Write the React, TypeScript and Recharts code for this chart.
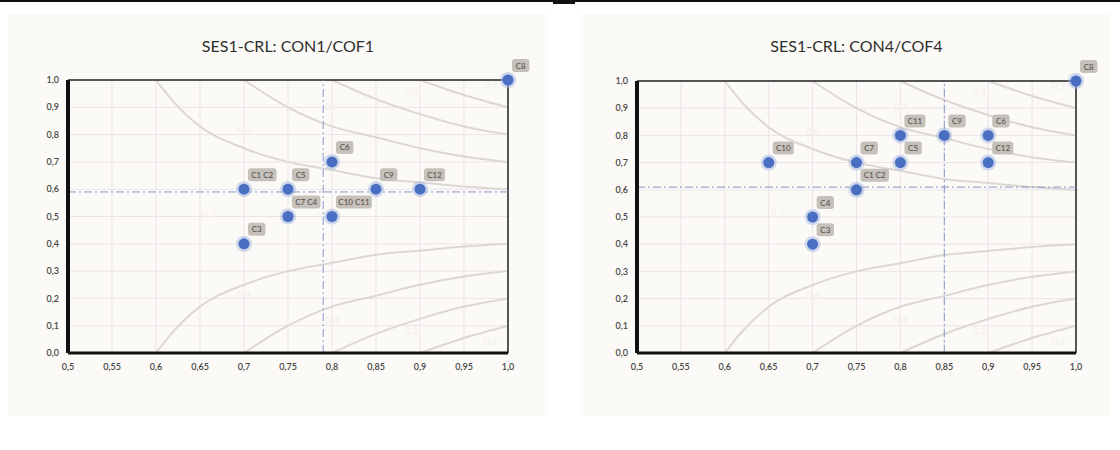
import * as React from "react";
import {
  ComposedChart,
  XAxis,
  YAxis,
  CartesianGrid,
  Line,
  Scatter,
  ReferenceLine,
} from "recharts";

// axis ticks
const xTicks = [0.5, 0.55, 0.6, 0.65, 0.7, 0.75, 0.8, 0.85, 0.9, 0.95, 1.0];
const xTickLabels = ["0,5", "0,55", "0,6", "0,65", "0,7", "0,75", "0,8", "0,85", "0,9", "0,95", "1,0"];
const yTicks = [0, 0.1, 0.2, 0.3, 0.4, 0.5, 0.6, 0.7, 0.8, 0.9, 1.0];
const yTickLabels = ["0,0", "0,1", "0,2", "0,3", "0,4", "0,5", "0,6", "0,7", "0,8", "0,9", "1,0"];

// left chart: CON1 / COF1
const leftTitle = "SES1-CRL: CON1/COF1";
const leftNames = ["C1 C2", "C3", "C5", "C7 C4", "C6", "C10 C11", "C9", "C12", "C8"];
const leftCon = [0.7, 0.7, 0.75, 0.75, 0.8, 0.8, 0.85, 0.9, 1.0];
const leftCof = [0.6, 0.4, 0.6, 0.5, 0.7, 0.5, 0.6, 0.6, 1.0];
const leftRefX = 0.79;
const leftRefY = 0.59;

// right chart: CON4 / COF4
const rightTitle = "SES1-CRL: CON4/COF4";
const rightNames = ["C10", "C4", "C3", "C7", "C1 C2", "C11", "C5", "C9", "C6", "C12", "C8"];
const rightCon = [0.65, 0.7, 0.7, 0.75, 0.75, 0.8, 0.8, 0.85, 0.9, 0.9, 1.0];
const rightCof = [0.7, 0.5, 0.4, 0.7, 0.6, 0.8, 0.7, 0.8, 0.8, 0.7, 1.0];
const rightRefX = 0.85;
const rightRefY = 0.61;

// background iso-curves
const curve06x = [0.6, 0.62, 0.65, 0.7, 0.75, 0.8, 0.85, 0.9, 0.95, 1.0];
const curve06y = [1.0, 0.92, 0.83, 0.75, 0.7, 0.67, 0.64, 0.625, 0.61, 0.6];
const curve07x = [0.7, 0.75, 0.8, 0.85, 0.9, 0.95, 1.0];
const curve07y = [1.0, 0.9, 0.83, 0.79, 0.75, 0.72, 0.7];
const curve08x = [0.8, 0.85, 0.9, 0.95, 1.0];
const curve08y = [1.0, 0.93, 0.875, 0.83, 0.8];
const curve09x = [0.9, 0.95, 1.0];
const curve09y = [1.0, 0.945, 0.9];
const curve04x = [0.6, 0.62, 0.65, 0.7, 0.75, 0.8, 0.85, 0.9, 0.95, 1.0];
const curve04y = [0, 0.08, 0.17, 0.25, 0.3, 0.33, 0.36, 0.375, 0.39, 0.4];
const curve03x = [0.7, 0.75, 0.8, 0.85, 0.9, 0.95, 1.0];
const curve03y = [0, 0.1, 0.17, 0.21, 0.25, 0.28, 0.3];
const curve02x = [0.8, 0.85, 0.9, 0.95, 1.0];
const curve02y = [0, 0.07, 0.125, 0.17, 0.2];
const curve01x = [0.9, 0.95, 1.0];
const curve01y = [0, 0.055, 0.1];

const curveLabelText = ["0,6", "0,7", "0,8", "0,9", "0,5", "0,4", "0,3", "0,2", "0,1"];
const curveLabelX = [0.7, 0.8, 0.89, 0.98, 0.66, 0.7, 0.8, 0.89, 0.98];
const curveLabelY = [0.8, 0.89, 0.95, 0.97, 0.5, 0.2, 0.11, 0.07, 0.03];

const zip = (xs: number[], ys: number[]) => xs.map((x, i) => ({ x, y: ys[i] }));

const curves = [
  zip(curve06x, curve06y),
  zip(curve07x, curve07y),
  zip(curve08x, curve08y),
  zip(curve09x, curve09y),
  zip(curve04x, curve04y),
  zip(curve03x, curve03y),
  zip(curve02x, curve02y),
  zip(curve01x, curve01y),
];

const curveLabels = curveLabelText.map((t, i) => ({
  x: curveLabelX[i],
  y: curveLabelY[i],
  name: t,
}));

const FONT = "Lato, 'Open Sans', sans-serif";

const PointShape = (props: any) => {
  const { cx, cy, payload } = props;
  if (cx == null || cy == null) return null;
  const name: string = payload.name;
  const w = name.length * 3.7 + 10;
  return (
    <g>
      <circle cx={cx} cy={cy} r={8} fill="#9fb3e0" opacity={0.5} />
      <circle cx={cx} cy={cy} r={5.5} fill="#4a6fc2" />
      <rect x={cx + 4} y={cy - 21} width={w} height={13} rx={3} fill="#c5c0ba" />
      <text
        x={cx + 4 + w / 2}
        y={cy - 11.5}
        textAnchor="middle"
        fontSize={8}
        fontFamily={FONT}
        fill="#4f4a46"
      >
        {name}
      </text>
    </g>
  );
};

const CurveLabel = (props: any) => {
  const { cx, cy, payload } = props;
  if (cx == null || cy == null) return null;
  return (
    <text x={cx} y={cy} textAnchor="middle" fontSize={10} fontFamily={FONT} fill="#f1eeea">
      {payload.name}
    </text>
  );
};

interface PanelProps {
  title: string;
  names: string[];
  con: number[];
  cof: number[];
  refX: number;
  refY: number;
  left: number;
  width: number;
  marginLeft: number;
  marginRight: number;
  marginTop: number;
}

const Panel = ({
  title,
  names,
  con,
  cof,
  refX,
  refY,
  left,
  width,
  marginLeft,
  marginRight,
  marginTop,
}: PanelProps) => {
  const points = names.map((n, i) => ({ x: con[i], y: cof[i], name: n }));
  const height = 420;
  return (
    <div style={{ position: "absolute", left, top: 0, width, height }}>
      <div
        style={{
          position: "absolute",
          left: marginLeft + 30,
          width: width - marginLeft - 30 - marginRight,
          top: 36,
          textAlign: "center",
          fontFamily: FONT,
          fontSize: 16,
          color: "#2e2e2e",
        }}
      >
        {title}
      </div>
      <ComposedChart
        width={width}
        height={height}
        margin={{ top: marginTop, right: marginRight, bottom: 47, left: marginLeft }}
        style={{ position: "absolute", left: 0, top: 0 }}
      >
        <CartesianGrid stroke="#ece3e9" strokeWidth={1} />
        <XAxis
          type="number"
          dataKey="x"
          domain={[0.5, 1.0]}
          ticks={xTicks}
          tickFormatter={(v: number) => xTickLabels[xTicks.indexOf(v)] ?? String(v)}
          tickLine={false}
          axisLine={{ stroke: "#111", strokeWidth: 3 }}
          tick={{ fontSize: 9, fill: "#444", fontFamily: FONT, fontWeight: 600 }}
          tickMargin={5}
          height={20}
          interval={0}
        />
        <YAxis
          type="number"
          dataKey="y"
          domain={[0, 1.0]}
          ticks={yTicks}
          tickFormatter={(v: number) => yTickLabels[yTicks.indexOf(v)] ?? String(v)}
          tickLine={false}
          axisLine={{ stroke: "#111", strokeWidth: 4 }}
          tick={{ fontSize: 9, fill: "#444", fontFamily: FONT, fontWeight: 600 }}
          tickMargin={3}
          width={30}
          interval={0}
        />
        {curves.map((c, i) => (
          <Line
            key={i}
            data={c}
            dataKey="y"
            type="monotone"
            stroke="#dcd7d2"
            strokeWidth={2}
            dot={false}
            activeDot={false}
            isAnimationActive={false}
          />
        ))}
        <Scatter data={curveLabels} shape={CurveLabel} isAnimationActive={false} />
        <ReferenceLine y={1.0} stroke="#555" strokeWidth={2} />
        <ReferenceLine x={1.0} stroke="#555" strokeWidth={2} />
        <ReferenceLine x={refX} stroke="#8797cc" strokeWidth={1} strokeDasharray="8 3 2 3" />
        <ReferenceLine y={refY} stroke="#8797cc" strokeWidth={1} strokeDasharray="8 3 2 3" />
        <Scatter data={points} shape={PointShape} isAnimationActive={false} />
      </ComposedChart>
    </div>
  );
};

export default function App() {
  return (
    <div
      style={{
        position: "absolute",
        left: 0,
        top: 0,
        width: 1120,
        height: 450,
        background: "#ffffff",
        overflow: "hidden",
      }}
    >
      <div style={{ position: "absolute", left: 0, top: 0, width: 1120, height: 2, background: "#111" }} />
      <div style={{ position: "absolute", left: 553, top: 0, width: 22, height: 4, background: "#111" }} />
      <div style={{ position: "absolute", left: 8, top: 14, width: 540, height: 402, background: "#fcfaf7" }} />
      <div style={{ position: "absolute", left: 580, top: 14, width: 530, height: 402, background: "#fcfaf7" }} />
      <Panel
        title={leftTitle}
        names={leftNames}
        con={leftCon}
        cof={leftCof}
        refX={leftRefX}
        refY={leftRefY}
        left={0}
        width={560}
        marginLeft={38}
        marginRight={52}
        marginTop={80}
      />
      <Panel
        title={rightTitle}
        names={rightNames}
        con={rightCon}
        cof={rightCof}
        refX={rightRefX}
        refY={rightRefY}
        left={570}
        width={550}
        marginLeft={37}
        marginRight={44}
        marginTop={81}
      />
    </div>
  );
}
